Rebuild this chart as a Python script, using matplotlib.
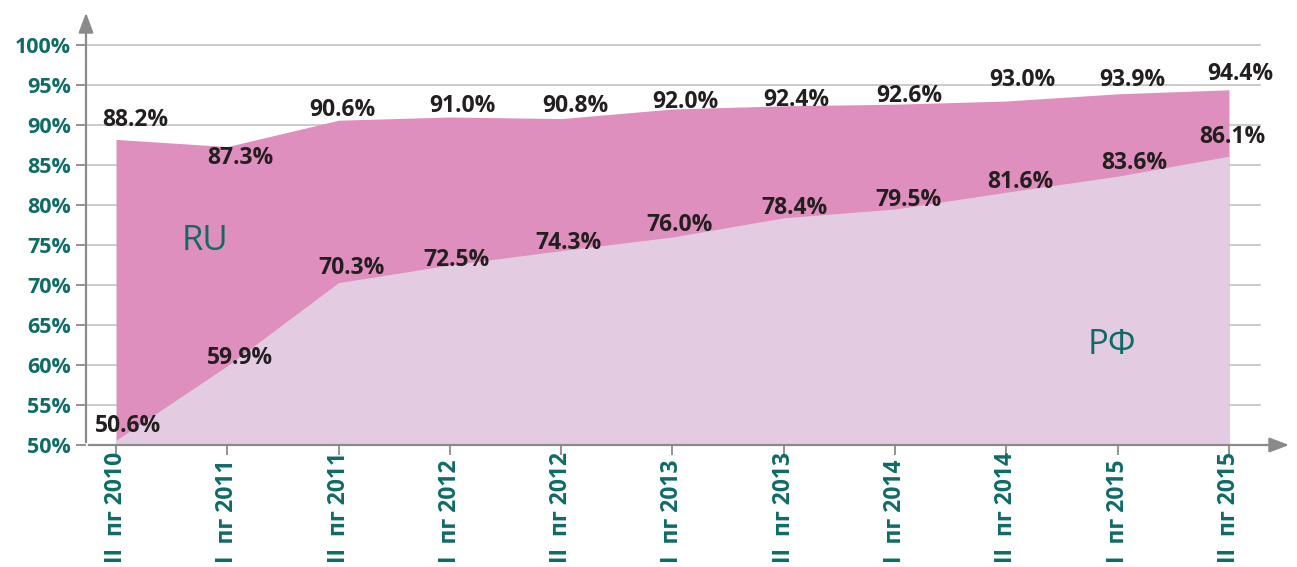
import matplotlib
matplotlib.use("Agg")
import matplotlib.pyplot as plt
from matplotlib.transforms import blended_transform_factory

categories = ["II  пг 2010", "I  пг 2011", "II  пг 2011", "I  пг 2012", "II  пг 2012",
              "I  пг 2013", "II  пг 2013", "I  пг 2014", "II  пг 2014", "I  пг 2015", "II  пг 2015"]
ru_values = [88.2, 87.3, 90.6, 91.0, 90.8, 92.0, 92.4, 92.6, 93.0, 93.9, 94.4]
rf_values = [50.6, 59.9, 70.3, 72.5, 74.3, 76.0, 78.4, 79.5, 81.6, 83.6, 86.1]
y_ticks = [50, 55, 60, 65, 70, 75, 80, 85, 90, 95, 100]
series_names = ["RU", "РФ"]

# label offsets in pixels (dx, dy)
ru_offsets = [(19, 19), (13, -11), (4, 10), (13, 11), (14, 13), (13, 7), (13, 6), (14, 8), (16, 21), (15, 14), (11, 16)]
rf_offsets = [(12, 14), (13, 8), (13, 15), (7, 5), (7, 8), (7, 12), (11, 10), (13, 9), (14, 10), (17, 13), (3, 19)]

TEAL = "#0f6b66"
RU_COL = "#df8fbd"
RF_COL = "#e3cce2"
GRID = "#c8c8c8"
AXIS = "#8a8a8a"
TXT = "#231f20"
FONT = "Open Sans"

W, H = 1297, 567
fig = plt.figure(figsize=(W / 100, H / 100), dpi=100)
left_px, right_px, bottom_px, top_px = 86, 1292, 445, 10
ax = fig.add_axes([left_px / W, (H - bottom_px) / H, (right_px - left_px) / W, (bottom_px - top_px) / H])

x = list(range(len(categories)))
step_px = 111.3
xmin = -(116 - left_px) / step_px
xmax = xmin + (right_px - left_px) / step_px
ymin = 50
ymax = 50 + (bottom_px - top_px) / 8.0
ax.set_xlim(xmin, xmax)
ax.set_ylim(ymin, ymax)
for s in ax.spines.values():
    s.set_visible(False)

grid_end = xmin + (1260 - left_px) / step_px
for t in y_ticks[1:]:
    ax.plot([xmin, grid_end], [t, t], color=GRID, lw=1.3, zorder=1)

ax.fill_between(x, 50, ru_values, color=RU_COL, lw=0, zorder=2)
ax.fill_between(x, 50, rf_values, color=RF_COL, lw=0, zorder=3)

# axes arrows
ax.annotate("", xy=(xmin, ymax), xytext=(xmin, 50),
            arrowprops=dict(arrowstyle="-|>,head_length=1.2,head_width=0.45", color=AXIS, lw=1.6), zorder=5)
ax.annotate("", xy=(xmax, 50), xytext=(xmin, 50),
            arrowprops=dict(arrowstyle="-|>,head_length=1.2,head_width=0.45", color=AXIS, lw=1.6), zorder=5)

ax.set_yticks(y_ticks)
ax.set_yticklabels([f"{t}%" for t in y_ticks], color=TEAL, fontsize=15.5, fontweight="bold", family=FONT)
ax.tick_params(axis="y", length=7, width=1.3, color=AXIS, pad=4)
ax.set_xticks(x)
ax.set_xticklabels([])
ax.tick_params(axis="x", length=7, width=1.3, color=AXIS)

tr = blended_transform_factory(ax.transData, fig.transFigure)
for i, c in enumerate(categories):
    ax.text(i, 4 / H, c, rotation=90, ha="center", va="bottom", transform=tr,
            color=TEAL, fontsize=16.5, fontweight="bold", family=FONT)

for vals, offs in ((ru_values, ru_offsets), (rf_values, rf_offsets)):
    for i, v in enumerate(vals):
        dx, dy = offs[i]
        ax.annotate(f"{v:.1f}%", (i, v), xytext=(dx * 0.72, dy * 0.72), textcoords="offset points",
                    ha="center", va="center", fontsize=16.5, fontweight="bold", color=TXT, family=FONT, zorder=6)

ax.text(0.8, 75.5, series_names[0], color=TEAL, fontsize=25, family=FONT, ha="center", va="center", zorder=6)
ax.text(8.95, 62.5, series_names[1], color=TEAL, fontsize=25, family=FONT, ha="center", va="center", zorder=6)

fig.savefig("out.png", dpi=100)
